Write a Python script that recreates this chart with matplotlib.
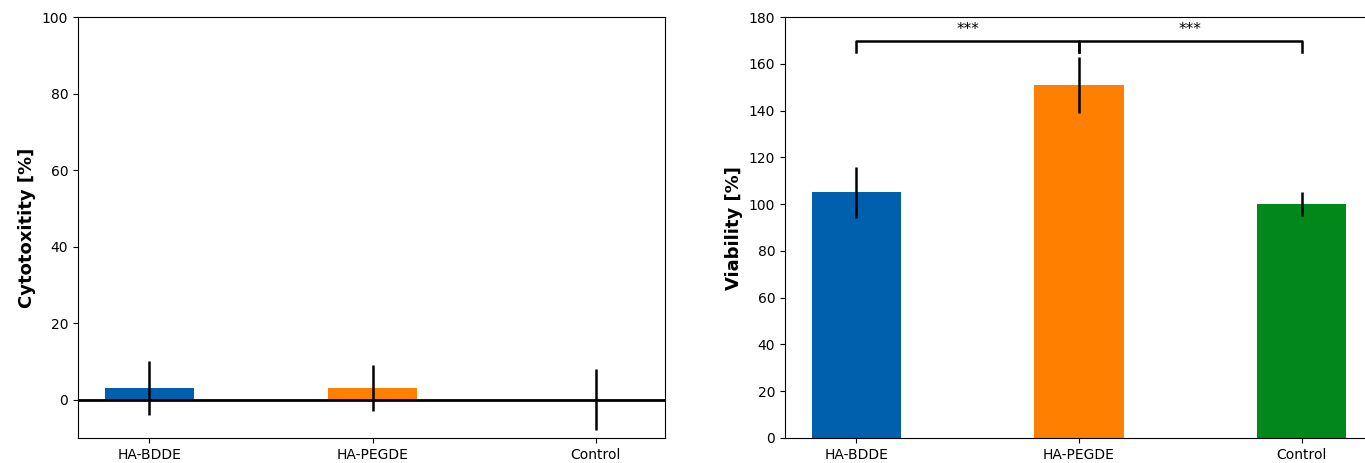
import matplotlib
matplotlib.use("Agg")
import matplotlib.pyplot as plt

groups = ["HA-BDDE", "HA-PEGDE", "Control"]
colors = ["#0060ad", "#ff7f00", "#00891a"]

cyto_mean = [3, 3, 0]
cyto_err = [7, 6, 8]

viab_mean = [105, 151, 100]
viab_err = [11, 12, 5]

# significance bracket: (left group, right group), label at midpoint
brackets = [(0, 1), (1, 2)]
bracket_y = 170
bracket_drop = 5

fig = plt.figure(figsize=(13.65, 4.63), dpi=100)
ax1 = fig.add_axes([0.0571, 0.054, 0.430, 0.909])
ax2 = fig.add_axes([0.575, 0.054, 0.431, 0.909])

x = list(range(len(groups)))

# left: cytotoxicity
ax1.bar(x, cyto_mean, width=0.4, color=colors)
ax1.errorbar(x, cyto_mean, yerr=cyto_err, fmt='none', ecolor='black', elinewidth=1.8, capsize=0)
ax1.axhline(0, color='black', lw=2)
ax1.set_ylim(-10, 100)
ax1.set_xlim(-0.32, 2.31)
ax1.set_xticks(x)
ax1.set_xticklabels(groups)
ax1.set_ylabel("Cytotoxitity [%]", fontsize=13, fontweight='bold')

# right: viability
ax2.bar(x, viab_mean, width=0.4, color=colors)
ax2.errorbar(x, viab_mean, yerr=viab_err, fmt='none', ecolor='black', elinewidth=1.8, capsize=0)
ax2.set_ylim(0, 180)
ax2.set_xlim(-0.32, 2.32)
ax2.set_xticks(x)
ax2.set_xticklabels(groups)
ax2.set_ylabel("Viability [%]", fontsize=13, fontweight='bold')

for a, b in brackets:
    ax2.plot([a, a, b, b], [bracket_y - bracket_drop, bracket_y, bracket_y, bracket_y - bracket_drop],
             color='black', lw=1.8)
    ax2.text((a + b) / 2, bracket_y + 1.5, "***", ha='center', va='bottom', fontsize=11)

for ax in (ax1, ax2):
    ax.tick_params(labelsize=10)

fig.savefig("out.png", dpi=100)
